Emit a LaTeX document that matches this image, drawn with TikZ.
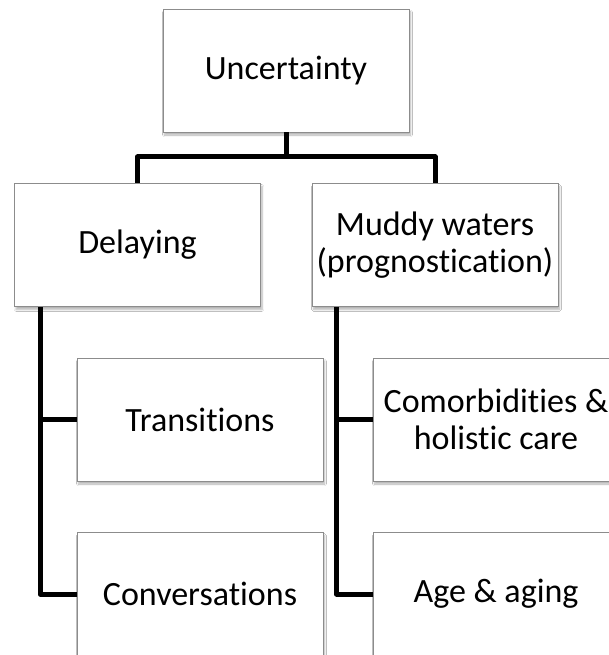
\documentclass[tikz,border=0pt]{standalone}
\usepackage{fontspec}
\setmainfont[Ligatures=NoCommon]{Carlito}
\usetikzlibrary{shadows.blur}
\tikzset{
  box/.style={draw=black!45, line width=0.8pt, fill=white, minimum width=246, minimum height=123, inner sep=0pt, align=center, font=\fontsize{34}{37}\selectfont, blur shadow={shadow xshift=1.5pt, shadow yshift=-3pt, shadow blur steps=6, shadow opacity=30}},
  conn/.style={line width=5pt, line join=round, black}
}
\begin{document}
\begin{tikzpicture}[x=1pt,y=-1pt]
\clip (0,0) rectangle (609,655);
\fill[white] (0,0) rectangle (609,655);
\node[box] (U) at (286,70.5) {Uncertainty};
\node[box] (D) at (137.5,245) {Delaying};
\node[box] (M) at (435,245) {Muddy waters\\(prognostication)};
\node[box] (T) at (200,419.5) {Transitions};
\node[box] (K) at (496,419.5) {Comorbidities \&\\holistic care};
\node[box] (C) at (200,594) {Conversations};
\node[box] (A) at (496,594) {Age \& aging};
\coordinate (bus) at (286,157);
\draw[conn] (U.south) -- (bus) -| (D.north);
\draw[conn] (bus) -| (M.north);
\coordinate (dl) at ([xshift=26pt]D.south west);
\coordinate (ml) at ([xshift=25pt]M.south west);
\draw[conn] (dl) |- (C.west);
\draw[conn] (dl |- T.west) -- (T.west);
\draw[conn] (ml) |- (A.west);
\draw[conn] (ml |- K.west) -- (K.west);
\end{tikzpicture}
\end{document}
